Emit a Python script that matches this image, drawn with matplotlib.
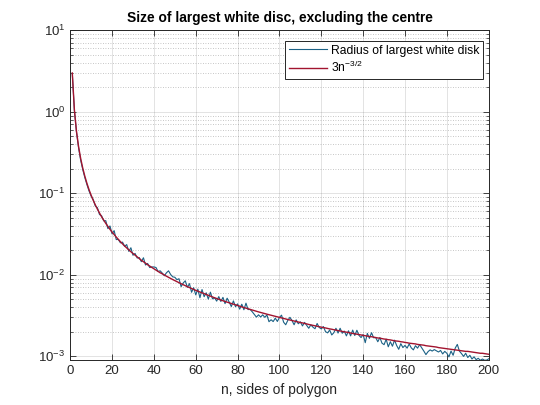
import numpy as np
import matplotlib
matplotlib.use('Agg')
import matplotlib.pyplot as plt
from matplotlib.ticker import LogLocator, NullFormatter, MultipleLocator

plt.rcParams['font.family'] = ['Liberation Sans', 'DejaVu Sans']
plt.rcParams['mathtext.fontset'] = 'custom'
plt.rcParams['mathtext.rm'] = 'Liberation Sans'
plt.rcParams['mathtext.it'] = 'Liberation Sans:italic'

# n = 1..200
n_sides = list(range(1, 201))

# radius of the largest white disk
radius = [
    2.95, 1.04, 0.565, 0.362, 0.255, 0.196, 0.156, 0.128, 0.107, 0.0925,
    0.0838, 0.0700, 0.0666, 0.0550, 0.0531, 0.0460, 0.0462, 0.0369, 0.0398, 0.0318,
    0.0349, 0.0271, 0.0272, 0.0247, 0.0252, 0.0224, 0.0235, 0.0194, 0.0215, 0.0174,
    0.0183, 0.0161, 0.0163, 0.0145, 0.0162, 0.0132, 0.0138, 0.0123, 0.0125, 0.0125,
    0.0123, 0.0110, 0.0112, 0.0105, 0.00974, 0.0106, 0.0112, 0.0101, 0.00945, 0.00934,
    0.00873, 0.00896, 0.00716, 0.00794, 0.00845, 0.00702, 0.00781, 0.00611, 0.00695, 0.00568,
    0.00668, 0.00523, 0.00660, 0.00539, 0.00602, 0.00504, 0.00613, 0.00508, 0.00523, 0.00476,
    0.00541, 0.00471, 0.00529, 0.00443, 0.00517, 0.00462, 0.00408, 0.00479, 0.00406, 0.00440,
    0.00379, 0.00436, 0.00373, 0.00449, 0.00375, 0.00376, 0.00352, 0.00327, 0.00303, 0.00323,
    0.00304, 0.00323, 0.00301, 0.00322, 0.00266, 0.00281, 0.00267, 0.00294, 0.00268, 0.00300,
    0.00320, 0.00262, 0.00244, 0.00277, 0.00301, 0.00275, 0.00244, 0.00280, 0.00251, 0.00265,
    0.00236, 0.00261, 0.00240, 0.00221, 0.00243, 0.00228, 0.00218, 0.00253, 0.00226, 0.00217,
    0.00232, 0.00201, 0.00194, 0.00210, 0.00183, 0.00195, 0.00221, 0.00193, 0.00221, 0.00192,
    0.00204, 0.00178, 0.00206, 0.00178, 0.00210, 0.00180, 0.00209, 0.00181, 0.00170, 0.00185,
    0.00147, 0.00191, 0.00166, 0.00195, 0.00169, 0.00170, 0.00151, 0.00170, 0.00145, 0.00139,
    0.00162, 0.00131, 0.00151, 0.00133, 0.00158, 0.00136, 0.00122, 0.00143, 0.00128, 0.00136,
    0.00126, 0.00142, 0.00127, 0.00120, 0.00135, 0.00126, 0.00139, 0.00127, 0.00116, 0.00105,
    0.00114, 0.00120, 0.00116, 0.00121, 0.00117, 0.00113, 0.00118, 0.00107, 0.00115, 0.00109,
    0.000984, 0.00116, 0.00103, 0.00126, 0.00140, 0.00116, 0.00108, 0.000998, 0.00109, 0.000966,
    0.00103, 0.000927, 0.000986, 0.000910, 0.000946, 0.000894, 0.000927, 0.000896, 0.000899, 0.000933,
]

# reference curve 3n^(-3/2), tabulated
model = [
    3.0, 1.061, 0.577, 0.375, 0.268, 0.204, 0.162, 0.1326, 0.111, 0.0949,
    0.0822, 0.0722, 0.0640, 0.0573, 0.0516, 0.0469, 0.0428, 0.0393, 0.0362, 0.0335,
    0.0312, 0.0291, 0.0272, 0.0255, 0.0240, 0.0226, 0.0214, 0.0202, 0.0192, 0.0183,
    0.0174, 0.0166, 0.0158, 0.0151, 0.0145, 0.0139, 0.0133, 0.0128, 0.0123, 0.0119,
    0.0114, 0.0110, 0.0106, 0.0103, 0.00994, 0.00962, 0.00931, 0.00902, 0.00875, 0.00849,
    0.00824, 0.00800, 0.00778, 0.00756, 0.00735, 0.00716, 0.00697, 0.00679, 0.00662, 0.00645,
    0.00630, 0.00615, 0.00600, 0.00586, 0.00573, 0.00560, 0.00547, 0.00535, 0.00523, 0.00512,
    0.00501, 0.00491, 0.00481, 0.00471, 0.00462, 0.00453, 0.00444, 0.00435, 0.00427, 0.00419,
    0.00412, 0.00404, 0.00397, 0.00390, 0.00383, 0.00376, 0.00370, 0.00363, 0.00357, 0.00351,
    0.00346, 0.00340, 0.00334, 0.00329, 0.00324, 0.00319, 0.00314, 0.00309, 0.00305, 0.00300,
    0.00296, 0.00291, 0.00287, 0.00283, 0.00279, 0.00275, 0.00271, 0.00267, 0.00264, 0.00260,
    0.00257, 0.00253, 0.00250, 0.00246, 0.00243, 0.00240, 0.00237, 0.00234, 0.00231, 0.00228,
    0.00225, 0.00223, 0.00220, 0.00217, 0.00215, 0.00212, 0.00210, 0.00207, 0.00205, 0.00202,
    0.00200, 0.00198, 0.00196, 0.00193, 0.00191, 0.00189, 0.00187, 0.00185, 0.00183, 0.00181,
    0.00179, 0.00177, 0.00175, 0.00174, 0.00172, 0.00170, 0.00168, 0.00167, 0.00165, 0.00163,
    0.00162, 0.00160, 0.00159, 0.00157, 0.00155, 0.00154, 0.00153, 0.00151, 0.00150, 0.00148,
    0.00147, 0.00145, 0.00144, 0.00143, 0.00142, 0.00140, 0.00139, 0.00138, 0.00137, 0.00135,
    0.00134, 0.00133, 0.00132, 0.00131, 0.00130, 0.00128, 0.00127, 0.00126, 0.00125, 0.00124,
    0.00123, 0.00122, 0.00121, 0.00120, 0.00119, 0.00118, 0.00117, 0.00116, 0.00115, 0.00115,
    0.00114, 0.00113, 0.00112, 0.00111, 0.00110, 0.00109, 0.00109, 0.00108, 0.00107, 0.00106,
]

axcol = '#262626'

fig = plt.figure(figsize=(5.4, 4.05), dpi=100)
# matlab default axes position
ax = fig.add_axes([0.13, 0.11, 0.775, 0.815])

ax.plot(n_sides, radius, color='#1b6185', linewidth=0.8, label='Radius of largest white disk')
ax.plot(n_sides, model, color='#A2142F', linewidth=1.0, label='3n$^{-3/2}$')

ax.set_yscale('log')
ax.set_xlim(0, 200)
ax.set_ylim(8.9e-4, 10)
ax.xaxis.set_major_locator(MultipleLocator(20))
ax.yaxis.set_major_locator(LogLocator(base=10, numticks=10))
ax.yaxis.set_minor_locator(LogLocator(base=10, subs=np.arange(2, 10), numticks=10))
ax.yaxis.set_minor_formatter(NullFormatter())

ax.grid(True, which='major', color=axcol, alpha=0.15, linewidth=0.6)
ax.grid(True, which='minor', axis='y', color=axcol, alpha=0.35, linestyle=(0, (1, 2)), linewidth=0.6)

ax.tick_params(which='both', direction='in', top=True, right=True, colors=axcol, labelsize=9.5)
ax.tick_params(which='major', length=4, width=0.6)
ax.tick_params(which='minor', length=2, width=0.5)
for s in ax.spines.values():
    s.set_color(axcol)
    s.set_linewidth(0.7)

ax.set_xlabel('n, sides of polygon', fontsize=10, color=axcol)
ax.set_title('Size of largest white disc, excluding the centre', fontsize=9.9,
             fontweight='bold', color='black')

leg = ax.legend(loc='upper right', bbox_to_anchor=(0.986, 0.968), fontsize=8.7,
                fancybox=False, framealpha=1, edgecolor=axcol, handlelength=3.2,
                handletextpad=0.3, labelspacing=0.3, borderpad=0.3, borderaxespad=0)
leg.get_frame().set_linewidth(0.7)

plt.savefig('out.png', dpi=100)
